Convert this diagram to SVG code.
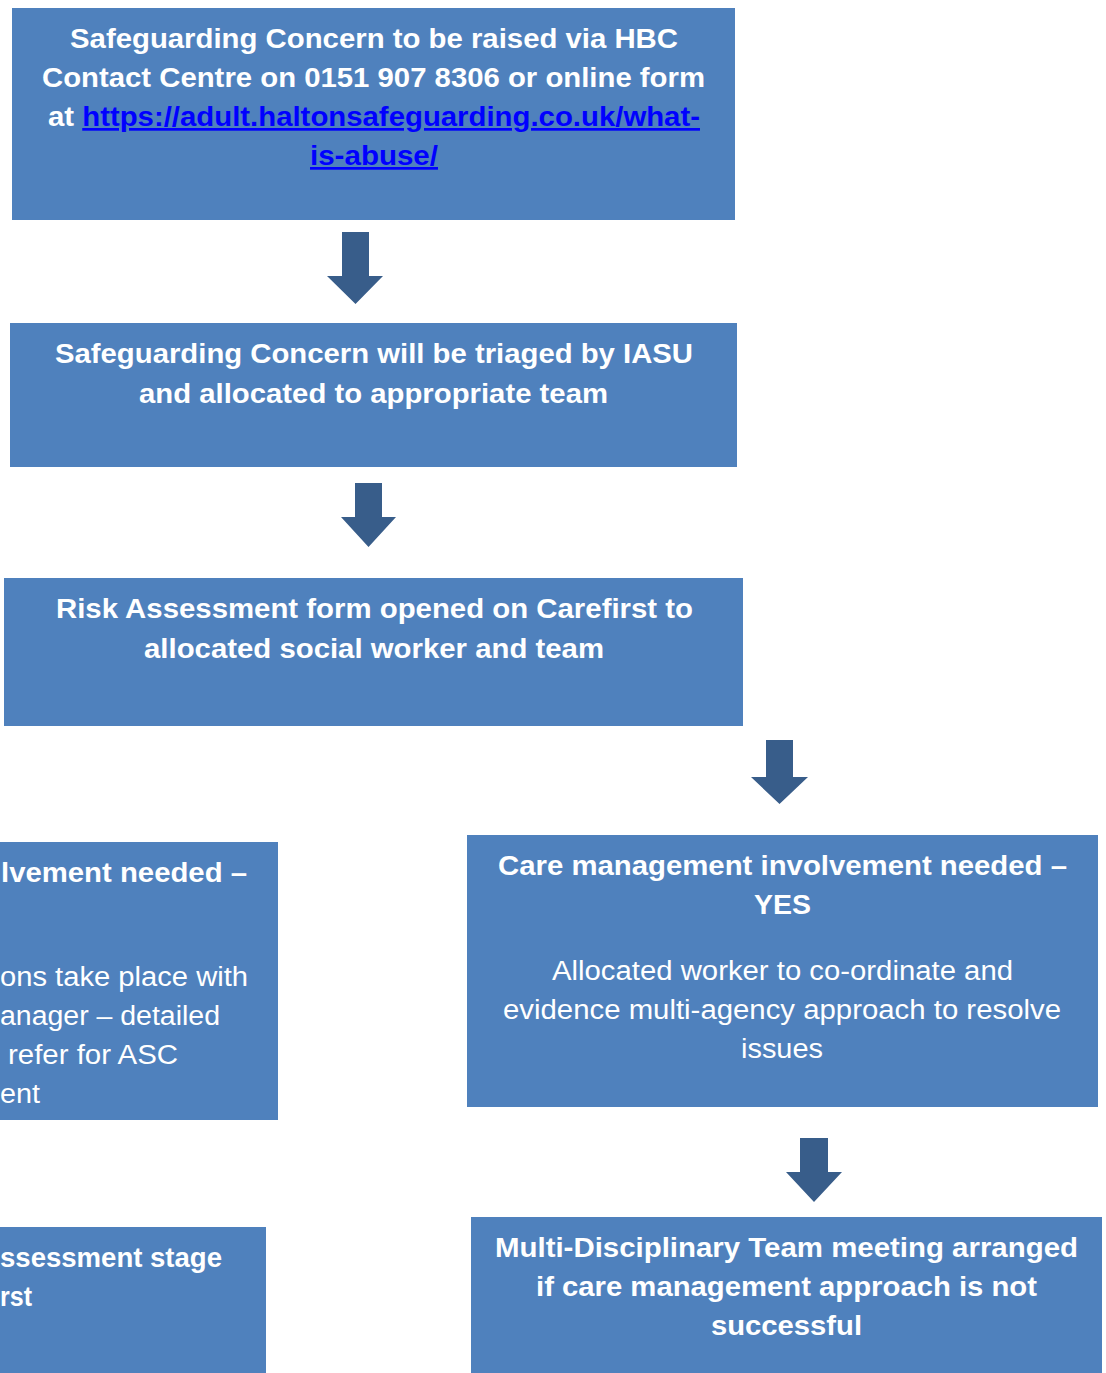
<svg xmlns="http://www.w3.org/2000/svg" width="1106" height="1373" viewBox="0 0 1106 1373">
<style>
.box{fill:#4F81BD}
.arr{fill:#385D8A}
text{font-family:"Liberation Sans",Arial,sans-serif;font-size:27px;fill:#fff}
.b{font-weight:bold}
.c{text-anchor:middle}
.e{text-anchor:end}
.link{fill:#0000FF;text-decoration:underline}
</style>
<rect width="1106" height="1373" fill="#fff"/>
<g id="connectors">
<polygon class="arr" points="342,232 369,232 369,276 383,276 355.5,304 327,276 342,276"/>
<polygon class="arr" points="355,483 382,483 382,517 396,517 368.5,547 341,517 355,517"/>
<polygon class="arr" points="766,740 793,740 793,777 808,777 779.5,804 751,777 766,777"/>
<polygon class="arr" points="800,1138 828,1138 828,1172 842,1172 814,1202 786,1172 800,1172"/>
</g>
<g id="node1">
<rect class="box" x="12" y="8" width="723" height="212"/>
<text class="b c" x="374" y="48" textLength="608" lengthAdjust="spacingAndGlyphs">Safeguarding Concern to be raised via HBC</text>
<text class="b c" x="373.5" y="87" textLength="663" lengthAdjust="spacingAndGlyphs">Contact Centre on 0151 907 8306 or online form</text>
<text class="b c" x="374" y="126" textLength="652" lengthAdjust="spacingAndGlyphs">at <tspan class="link">https://adult.haltonsafeguarding.co.uk/what-</tspan></text>
<text class="b c link" x="374" y="165" textLength="128" lengthAdjust="spacingAndGlyphs">is-abuse/</text>
</g>
<g id="node2">
<rect class="box" x="10" y="323" width="727" height="144"/>
<text class="b c" x="374" y="363" textLength="638" lengthAdjust="spacingAndGlyphs">Safeguarding Concern will be triaged by IASU</text>
<text class="b c" x="373.5" y="403" textLength="469" lengthAdjust="spacingAndGlyphs">and allocated to appropriate team</text>
</g>
<g id="node3">
<rect class="box" x="4" y="578" width="739" height="148"/>
<text class="b c" x="374.5" y="618" textLength="637" lengthAdjust="spacingAndGlyphs">Risk Assessment form opened on Carefirst to</text>
<text class="b c" x="374" y="658" textLength="460" lengthAdjust="spacingAndGlyphs">allocated social worker and team</text>
</g>
<g id="node4">
<rect class="box" x="0" y="842" width="278" height="278"/>
<text class="b e" x="247" y="882" textLength="246" lengthAdjust="spacingAndGlyphs">lvement needed –</text>
<text class="e" x="248" y="986" textLength="248" lengthAdjust="spacingAndGlyphs">ons take place with</text>
<text class="e" x="220" y="1025" textLength="220" lengthAdjust="spacingAndGlyphs">anager – detailed</text>
<text class="e" x="178" y="1064" textLength="170" lengthAdjust="spacingAndGlyphs">refer for ASC</text>
<text class="e" x="40" y="1103" textLength="40" lengthAdjust="spacingAndGlyphs">ent</text>
</g>
<g id="node5">
<rect class="box" x="467" y="835" width="631" height="272"/>
<text class="b c" x="782.5" y="875" textLength="569" lengthAdjust="spacingAndGlyphs">Care management involvement needed –</text>
<text class="b c" x="782.5" y="914" textLength="57" lengthAdjust="spacingAndGlyphs">YES</text>
<text class="c" x="782.5" y="980" textLength="461" lengthAdjust="spacingAndGlyphs">Allocated worker to co-ordinate and</text>
<text class="c" x="782" y="1019" textLength="558" lengthAdjust="spacingAndGlyphs">evidence multi-agency approach to resolve</text>
<text class="c" x="782" y="1058" textLength="82" lengthAdjust="spacingAndGlyphs">issues</text>
</g>
<g id="node6">
<rect class="box" x="0" y="1227" width="266" height="146"/>
<text class="b e" x="222" y="1267" textLength="222" lengthAdjust="spacingAndGlyphs">ssessment stage</text>
<text class="b e" x="32" y="1306" textLength="32" lengthAdjust="spacingAndGlyphs">rst</text>
</g>
<g id="node7">
<rect class="box" x="471" y="1217" width="631" height="156"/>
<text class="b c" x="786.5" y="1257" textLength="583" lengthAdjust="spacingAndGlyphs">Multi-Disciplinary Team meeting arranged</text>
<text class="b c" x="786.5" y="1296" textLength="501" lengthAdjust="spacingAndGlyphs">if care management approach is not</text>
<text class="b c" x="786.5" y="1335" textLength="151" lengthAdjust="spacingAndGlyphs">successful</text>
</g>
</svg>
